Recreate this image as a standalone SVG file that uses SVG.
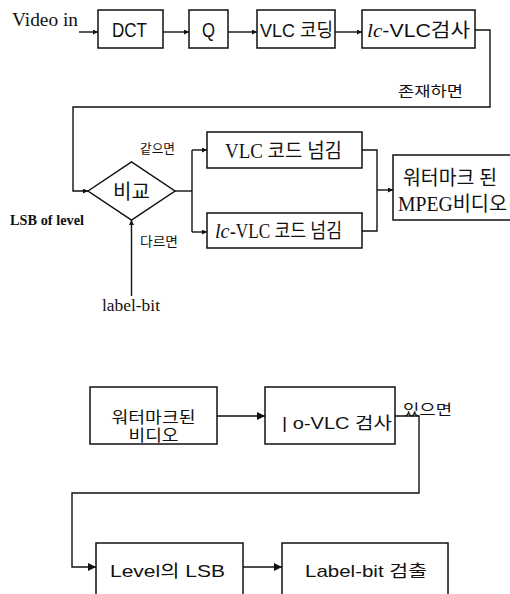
<svg xmlns="http://www.w3.org/2000/svg" width="510" height="594" viewBox="0 0 510 594">
<style>
.box{fill:#fff;stroke:#111;stroke-width:1.5}
.ln{fill:none;stroke:#111;stroke-width:1.4}
.sans{font-family:"Liberation Sans","Noto Sans CJK KR",sans-serif;fill:#111}
.serif{font-family:"Liberation Serif","Noto Sans CJK KR",serif;fill:#111}
.kr{font-family:"Noto Sans CJK KR","Liberation Sans",sans-serif;fill:#111}
</style>
<defs>
<marker id="a" viewBox="0 0 10 10" refX="10" refY="5" markerWidth="7" markerHeight="5" markerUnits="userSpaceOnUse" orient="auto"><path d="M0,0L10,5L0,10z" fill="#111"/></marker>
<marker id="b" viewBox="0 0 10 10" refX="10" refY="5" markerWidth="11" markerHeight="8" markerUnits="userSpaceOnUse" orient="auto"><path d="M0,0L10,5L0,10z" fill="#111"/></marker>
</defs>
<rect width="510" height="594" fill="#fff"/>

<text class="serif" x="12" y="26" font-size="19" textLength="66" lengthAdjust="spacingAndGlyphs">Video in</text>

<g id="dct"><rect class="box" x="98" y="10" width="65" height="38"/><text class="sans" x="112" y="37" font-size="20" textLength="35" lengthAdjust="spacingAndGlyphs">DCT</text></g>
<g id="q"><rect class="box" x="189" y="10" width="39" height="38"/><text class="sans" x="202" y="37" font-size="20" textLength="13" lengthAdjust="spacingAndGlyphs">Q</text></g>
<g id="vlc"><rect class="box" x="257" y="10" width="78" height="38"/><text class="sans" x="260" y="37" font-size="19" textLength="73" lengthAdjust="spacingAndGlyphs">VLC 코딩</text></g>
<g id="lcvlc"><rect class="box" x="362" y="10" width="113" height="38"/><text class="sans" x="367" y="37" font-size="19" textLength="103" lengthAdjust="spacingAndGlyphs"><tspan font-family="Liberation Serif" font-style="italic">lc</tspan>-VLC검사</text></g>

<text class="kr" x="398" y="96" font-size="14" textLength="65" lengthAdjust="spacingAndGlyphs">존재하면</text>

<g id="cmp"><polygon class="box" points="88,191 131.5,162 175,191 131.5,220"/><text class="kr" x="131.5" y="199" font-size="20" text-anchor="middle">비교</text></g>
<text class="kr" x="140" y="153" font-size="13" textLength="35" lengthAdjust="spacingAndGlyphs">같으면</text>
<text class="kr" x="140" y="246" font-size="13" textLength="38" lengthAdjust="spacingAndGlyphs">다르면</text>
<text class="serif" x="10" y="225" font-size="14" font-weight="bold" textLength="74" lengthAdjust="spacingAndGlyphs">LSB of level</text>
<text class="serif" x="102" y="311" font-size="17" textLength="58" lengthAdjust="spacingAndGlyphs">label-bit</text>

<g id="pass"><rect class="box" x="207" y="132" width="155" height="36"/><text class="serif" x="225" y="158" font-size="20" textLength="117" lengthAdjust="spacingAndGlyphs">VLC 코드 넘김</text></g>
<g id="lcpass"><rect class="box" x="207" y="213" width="155" height="35"/><text class="serif" x="215" y="238" font-size="20" font-style="italic">lc</text><text class="serif" x="230" y="238" font-size="20" textLength="112" lengthAdjust="spacingAndGlyphs">-VLC 코드 넘김</text></g>
<g id="mpeg"><rect class="box" x="393" y="155" width="130" height="65"/><text class="serif" x="403" y="185" font-size="20" textLength="94" lengthAdjust="spacingAndGlyphs">워터마크 된</text><text class="serif" x="398" y="211" font-size="20" textLength="109" lengthAdjust="spacingAndGlyphs">MPEG비디오</text></g>

<g id="wmv"><rect class="box" x="90" y="387" width="127" height="57"/><text class="sans" x="153.5" y="423" font-size="16" text-anchor="middle" textLength="84" lengthAdjust="spacingAndGlyphs">워터마크된</text><text class="sans" x="153.5" y="441" font-size="16" text-anchor="middle" textLength="50" lengthAdjust="spacingAndGlyphs">비디오</text></g>
<g id="lochk"><rect class="box" x="265" y="387" width="130" height="57"/><text class="sans" x="282" y="429" font-size="17" textLength="110" lengthAdjust="spacingAndGlyphs">| o-VLC 검사</text></g>
<text class="kr" x="403" y="415" font-size="15" textLength="49" lengthAdjust="spacingAndGlyphs">있으면</text>

<g id="lsb"><rect class="box" x="96" y="543" width="147" height="60"/><text class="sans" x="110" y="577" font-size="17" textLength="115" lengthAdjust="spacingAndGlyphs">Level의 LSB</text></g>
<g id="det"><rect class="box" x="282" y="543" width="166" height="60"/><text class="sans" x="305" y="577" font-size="17" textLength="122" lengthAdjust="spacingAndGlyphs">Label-bit 검출</text></g>

<g id="connectors">
<path class="ln" d="M79,32H98" marker-end="url(#a)"/>
<path class="ln" d="M163,32H189" marker-end="url(#a)"/>
<path class="ln" d="M228,32H257" marker-end="url(#a)"/>
<path class="ln" d="M335,32H362" marker-end="url(#a)"/>
<path class="ln" d="M475,30H490V107H73V191H88" marker-end="url(#a)"/>
<path class="ln" d="M175,191H192"/>
<path class="ln" d="M192,150V232"/>
<path class="ln" d="M192,150H207" marker-end="url(#a)"/>
<path class="ln" d="M192,232H207" marker-end="url(#a)"/>
<path class="ln" d="M362,150H377V231H362"/>
<path class="ln" d="M377,190H393" marker-end="url(#a)"/>
<path class="ln" d="M131.5,296V220" marker-end="url(#a)"/>
<path class="ln" d="M217,416H265" marker-end="url(#b)"/>
<path class="ln" d="M395,416H419V493H72V567H96" marker-end="url(#b)"/>
<path class="ln" d="M243,567H282" marker-end="url(#b)"/>
</g>
</svg>
